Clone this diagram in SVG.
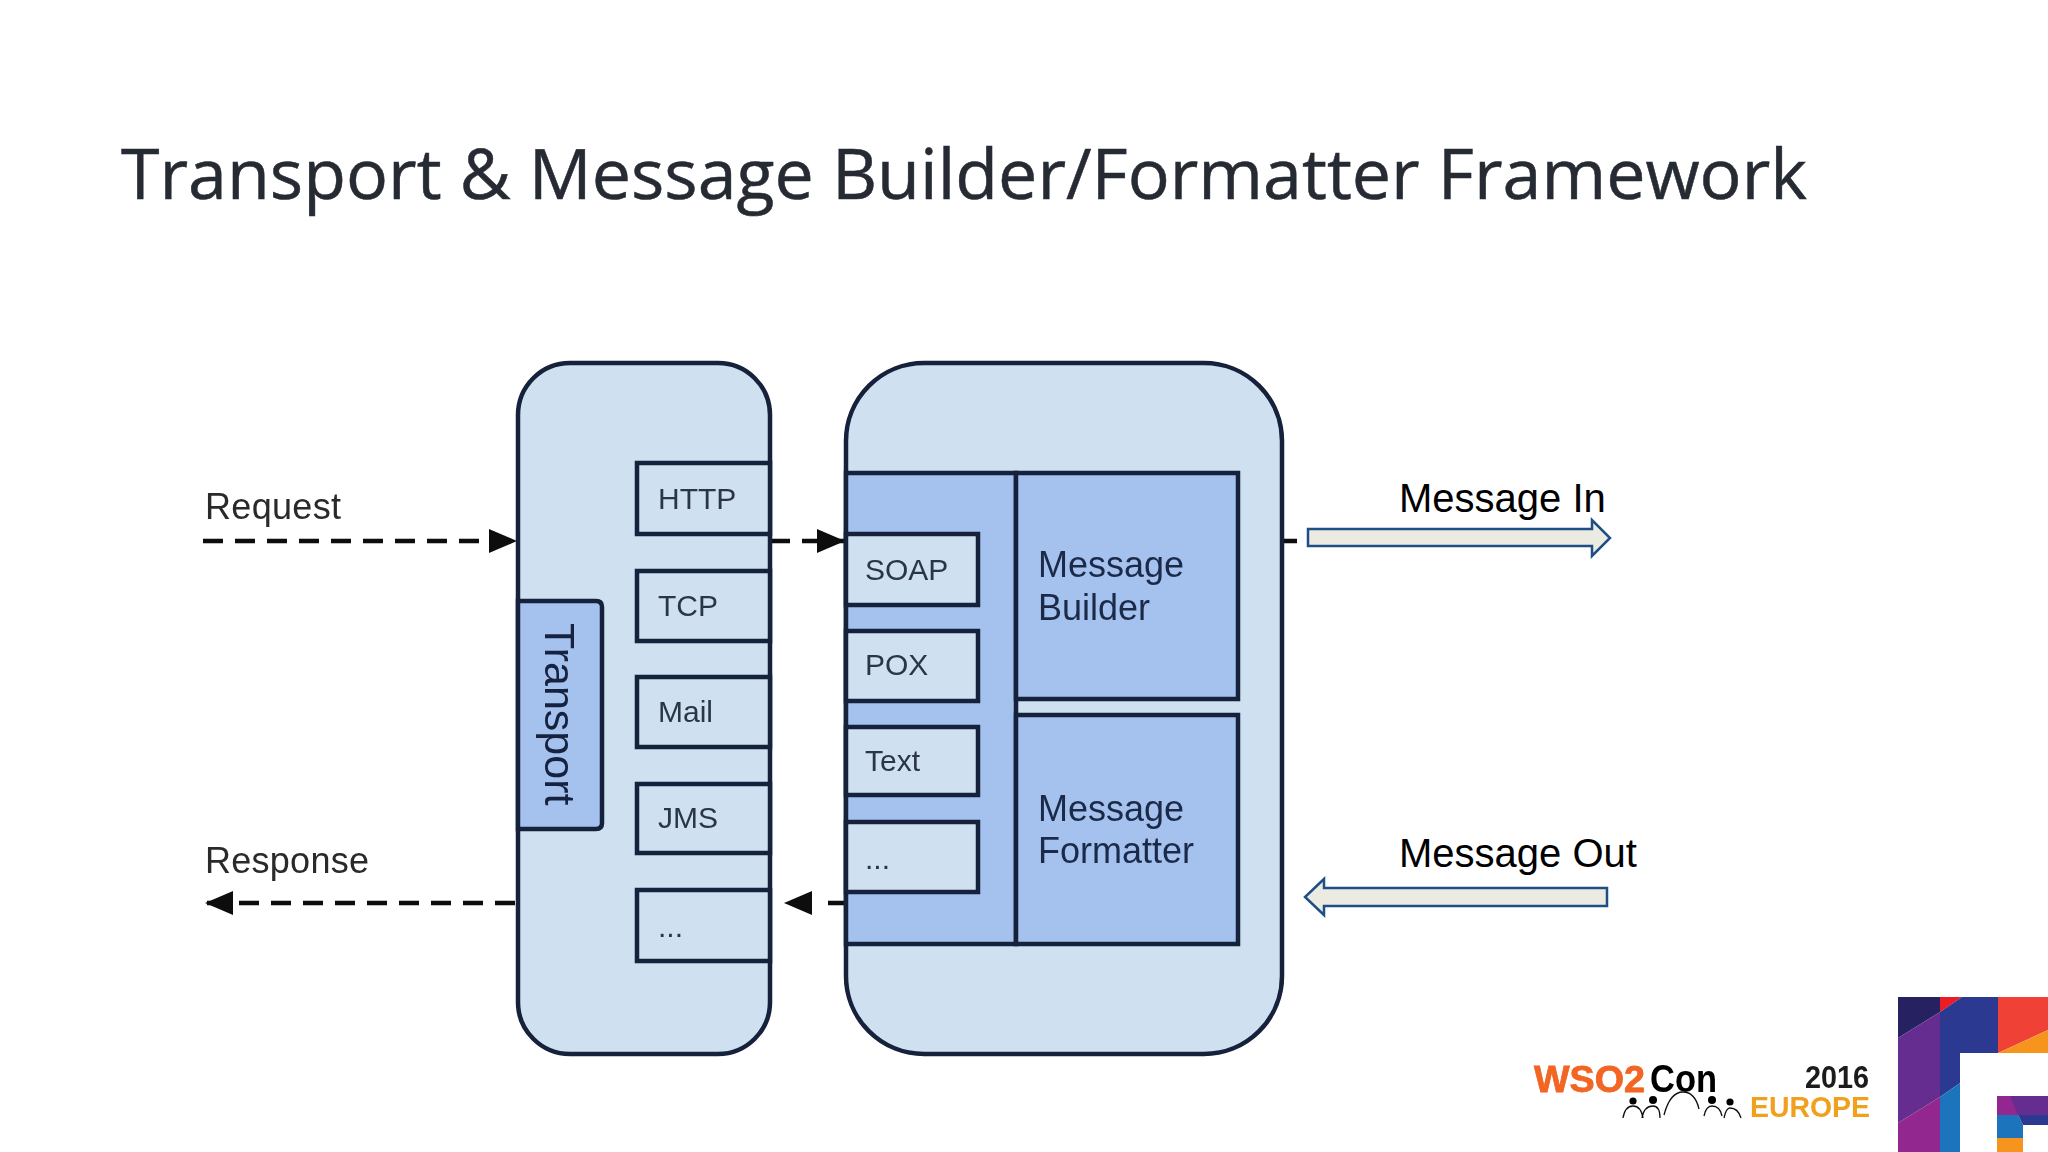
<svg xmlns="http://www.w3.org/2000/svg" width="2048" height="1152" viewBox="0 0 2048 1152">
<style>
.a{font-family:"Liberation Sans",Arial,sans-serif}
.p{fill:#cfe0f1;stroke:#14203a;stroke-width:4.5}
.d{fill:#a5c2ef;stroke:#14203a;stroke-width:4.5}
.b{fill:#cfe0f1;stroke:#14203a;stroke-width:4.5}
.t{font-size:30px;fill:#2b3644}
.m{font-size:36px;fill:#1b2a48}
.l{font-size:36px;fill:#2a2a2a}
.k{font-size:40px;fill:#000}
.c{fill:none;stroke:#111;stroke-width:4.5;stroke-dasharray:20 12}
.f{fill:#ecebe1;stroke:#1f4e86;stroke-width:2.5}
.g{fill:none;stroke:#111;stroke-width:1.3}
.s{filter:url(#soft)}
</style>
<defs>
<filter id="soft" x="-5%" y="-5%" width="110%" height="110%"><feGaussianBlur stdDeviation="0.7"/></filter>
<marker id="ah" markerUnits="userSpaceOnUse" markerWidth="30" markerHeight="30" refX="28" refY="14" orient="auto"><path d="M0 2 L28 14 L0 26 Z" fill="#111"/></marker>
</defs>
<rect width="2048" height="1152" fill="#fff"/>
<text id="title" x="121" y="199" font-size="70" textLength="1686" lengthAdjust="spacingAndGlyphs" fill="#262b33" stroke="#262b33" stroke-width=".5" font-family="'Open Sans','Noto Sans',sans-serif">Transport &amp; Message Builder/Formatter Framework</text>

<g id="connectors" class="s">
<path class="c" d="M203 541H517" marker-end="url(#ah)"/>
<path class="c" d="M770 541H845" marker-end="url(#ah)"/>
<path class="c" d="M515 903H205" marker-end="url(#ah)"/>
<path class="c" style="stroke-dasharray:17 17" d="M845 903H784" marker-end="url(#ah)"/>
<path class="c" d="M1282 541H1297"/>
</g>

<g id="transport-panel" class="s"><rect class="p" x="518" y="363" width="252" height="691" rx="52"/></g>
<g id="message-panel" class="s"><rect class="p" x="846" y="363" width="436" height="691" rx="78"/></g>
<g id="transport" class="s"><path class="d" d="M518 601H596Q602 601 602 607V823Q602 829 596 829H518Z"/><text class="a" transform="translate(545 623) rotate(90)" font-size="43" fill="#14233f">Transport</text></g>
<g id="http" class="s"><rect class="b" x="637" y="463" width="133" height="71"/><text class="a t" x="658" y="509">HTTP</text></g>
<g id="tcp" class="s"><rect class="b" x="637" y="571" width="133" height="70"/><text class="a t" x="658" y="616">TCP</text></g>
<g id="mail" class="s"><rect class="b" x="637" y="677" width="133" height="70"/><text class="a t" x="658" y="722">Mail</text></g>
<g id="jms" class="s"><rect class="b" x="637" y="784" width="133" height="69"/><text class="a t" x="658" y="828">JMS</text></g>
<g id="transport-more" class="s"><rect class="b" x="637" y="890" width="133" height="71"/><text class="a t" x="658" y="937">...</text></g>
<g id="format-column" class="s"><rect class="d" x="846" y="473" width="170" height="471"/></g>
<g id="soap" class="s"><rect class="b" x="846" y="534" width="132" height="71"/><text class="a t" x="865" y="580">SOAP</text></g>
<g id="pox" class="s"><rect class="b" x="846" y="631" width="132" height="70"/><text class="a t" x="865" y="675">POX</text></g>
<g id="text" class="s"><rect class="b" x="846" y="727" width="132" height="68"/><text class="a t" x="865" y="771">Text</text></g>
<g id="format-more" class="s"><rect class="b" x="846" y="822" width="132" height="70"/><text class="a t" x="865" y="869">...</text></g>
<g id="builder" class="s"><rect class="d" x="1016" y="473" width="222" height="226"/><text class="a m" x="1038" y="577">Message</text><text class="a m" x="1038" y="620">Builder</text></g>
<g id="formatter" class="s"><rect class="d" x="1016" y="715" width="222" height="229"/><text class="a m" x="1038" y="821">Message</text><text class="a m" x="1038" y="863">Formatter</text></g>

<g id="request" class="s"><text class="a l" x="205" y="519" textLength="136">Request</text></g>
<g id="response" class="s"><text class="a l" x="205" y="873" textLength="164">Response</text></g>
<g id="message-in"><path class="f" d="M1308 529H1592V520L1610 538L1592 556V546H1308Z"/><text class="a k" x="1399" y="512">Message In</text></g>
<g id="message-out"><path class="f" d="M1607 888H1324V879L1305 897L1324 915V906H1607Z"/><text class="a k" x="1399" y="867">Message Out</text></g>

<g id="logo" class="s">
<text class="a" x="1534" y="1092" font-size="37" font-weight="bold" fill="#f26522" stroke="#f26522" stroke-width=".8" textLength="111" lengthAdjust="spacingAndGlyphs">WSO2</text>
<text class="a" x="1650" y="1092" font-size="38" font-weight="bold" fill="#000" textLength="67" lengthAdjust="spacingAndGlyphs">Con</text>
<text class="a" x="1805" y="1088" font-size="32" font-weight="bold" fill="#1a1a1a" textLength="64" lengthAdjust="spacingAndGlyphs">2016</text>
<text class="a" x="1750" y="1117" font-size="30" font-weight="bold" fill="#f0a01e" textLength="120" lengthAdjust="spacingAndGlyphs">EUROPE</text>
<circle cx="1633" cy="1101" r="3.6"/><circle cx="1653" cy="1100" r="4"/><circle cx="1712" cy="1100" r="4"/><circle cx="1730" cy="1102" r="3.6"/>
<path class="g" d="M1623 1118Q1625 1106 1633 1106Q1641 1106 1643 1118M1642 1118Q1644 1106 1653 1106Q1660 1106 1660 1118M1664 1115Q1670 1092 1683 1092Q1695 1092 1699 1109M1704 1116Q1706 1106 1712 1106Q1720 1106 1722 1116M1724 1118Q1726 1108 1730 1108Q1738 1108 1741 1118"/>
</g>
<g id="corner">
<rect x="1898" y="997" width="150" height="155" fill="#fff"/>
<path d="M1898 1038V997H1940V1012Z" fill="#262262"/>
<path d="M1940 997H1962L1940 1012Z" fill="#ed1c24"/>
<path d="M1940 1012L1962 997H1998V1053H1960V1083L1940 1097Z" fill="#2b3990"/>
<path d="M1998 997H2048V1030L1998 1053Z" fill="#ef4136"/>
<path d="M2048 1030V1053H1998Z" fill="#f7941e"/>
<path d="M1898 1038L1940 1012V1097L1898 1123Z" fill="#662d91"/>
<path d="M1898 1123L1940 1097V1152H1898Z" fill="#92278f"/>
<path d="M1940 1097L1960 1083V1152H1940Z" fill="#1c75bc"/>
<rect x="1997" y="1096" width="51" height="56" fill="#fff"/>
<path d="M1997 1096H2048V1115H1997Z" fill="#662d91"/>
<path d="M1997 1096H2010L2018 1115H1997Z" fill="#92278f"/>
<path d="M1997 1115H2018L2023 1125V1138H1997Z" fill="#1c75bc"/>
<path d="M1997 1138H2023V1152H1997Z" fill="#f7941e"/>
<path d="M2018 1115H2048V1125H2023Z" fill="#2b3990"/>
</g>
</svg>
